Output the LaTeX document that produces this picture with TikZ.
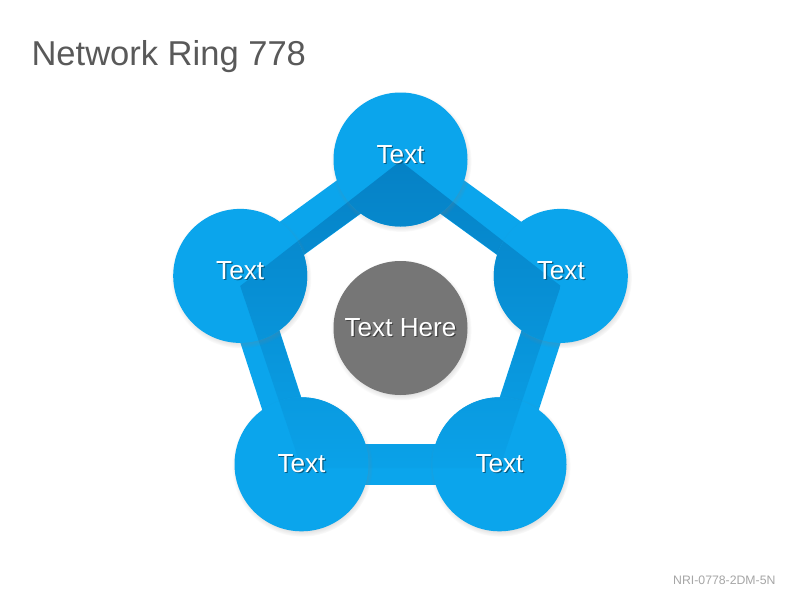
\documentclass[tikz,border=0pt]{standalone}
\usepackage{fontspec}
\setmainfont{Liberation Sans}
\usetikzlibrary{shadows,backgrounds}

\definecolor{blu}{HTML}{0BA5EC}
\definecolor{bluscuro}{HTML}{0580C4}
\definecolor{grigio}{HTML}{767676}
\definecolor{grigiotitolo}{HTML}{595959}
\definecolor{grigiocodice}{HTML}{A6A6A6}

% testo bianco con ombra
\newcommand{\ombra}[3][0pt]{\raisebox{#1}[\height][\depth]{\makebox[0pt][l]{\hspace{0.9pt}\raisebox{-0.9pt}{\color{#2}#3}}#3}}

\begin{document}
\begin{tikzpicture}[x=0.75pt, y=-0.75pt, thick,
    cerchio/.style = {circle, minimum size=100.5pt, inner sep=0pt, text=white, font=\fontsize{19.6}{23}\selectfont,
        circular drop shadow={shadow scale=1.05, shadow xshift=0.5pt, shadow yshift=-1.5pt, opacity=0.4}},
    main/.style = {cerchio, fill=blu, path picture={\clip (d1) -- (d2) -- (d3) -- (d4) -- (d5) -- cycle;
        \shade[top color=bluscuro, bottom color=blu] (g1) rectangle (g2);}},
    centro/.style = {cerchio, fill=grigio},
    banda/.style = {draw=blu, line width=30.75pt}]
    \useasboundingbox (0,0) rectangle (800,600);

    % Coordinate per la parte scura dell'anello
    \coordinate (d1) at (400.5,161);
    \coordinate (d2) at (560.8,286);
    \coordinate (d3) at (499.5,468);
    \coordinate (d4) at (301.5,468);
    \coordinate (d5) at (240.2,286);
    \coordinate (i1) at (400.5,184.2);
    \coordinate (i2) at (537.2,283.6);
    \coordinate (i3) at (485.0,444.3);
    \coordinate (i4) at (316.0,444.3);
    \coordinate (i5) at (263.8,283.6);
    \coordinate (g1) at (150,150);
    \coordinate (g2) at (650,500);

    \node[anchor=base west, inner sep=0pt, text=grigiotitolo, font=\fontsize{25.9}{30}\selectfont] (titolo) at (31,65.5) {Network Ring 778};

    % Disegna i nodi del grafo
    \node[main] (1) at (400.5,159.5) {\ombra[3.4pt]{black!45!blu}{Text}};
    \node[main] (2) at (560.8,275.9) {\ombra[3.4pt]{black!45!blu}{Text}};
    \node[main] (3) at (499.5,464.3) {\ombra{black!45!blu}{Text}};
    \node[main] (4) at (301.5,464.3) {\ombra{black!45!blu}{Text}};
    \node[main] (5) at (240.2,275.9) {\ombra[3.4pt]{black!45!blu}{Text}};
    \node[centro] (0) at (400.5,328) {\ombra{black!45!grigio}{Text Here}};

    \node[anchor=base east, inner sep=0pt, text=grigiocodice, font=\fontsize{9.2}{11}\selectfont] (codice) at (776,584) {NRI-0778-2DM-5N};

    \begin{scope}[on background layer]
        \fill[white] (0,0) rectangle (800,600);
        \draw[banda] (1.center) -- (2.center);
        \draw[banda] (2.center) -- (3.center);
        \draw[banda] (3.center) -- (4.center);
        \draw[banda] (4.center) -- (5.center);
        \draw[banda] (5.center) -- (1.center);
        \begin{scope}[even odd rule]
            \clip (d1) -- (d2) -- (d3) -- (d4) -- (d5) -- cycle (i1) -- (i2) -- (i3) -- (i4) -- (i5) -- cycle;
            \shade[top color=bluscuro, bottom color=blu] (g1) rectangle (g2);
        \end{scope}
    \end{scope}

\end{tikzpicture}
\end{document}
